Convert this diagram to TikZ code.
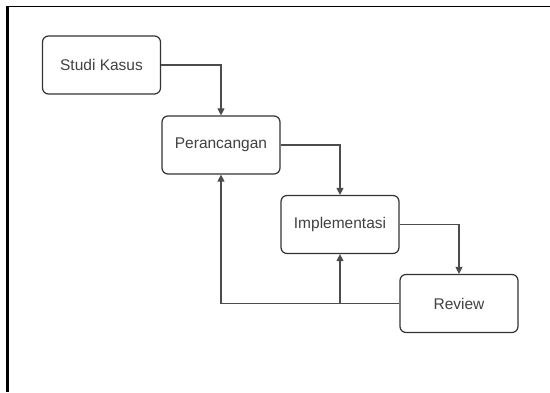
\documentclass[tikz,border=0pt]{standalone}
\usepackage{fontspec}
\setmainfont{Liberation Sans}
\usetikzlibrary{arrows.meta}

\tikzset{
  tahap/.style={draw=black!80,line width=1.2pt,rounded corners=6pt,
    minimum width=118pt,minimum height=58pt,text=black!75,
    font=\fontsize{15.5}{18}\selectfont},
  alur/.style={draw=black!70,line width=1.1pt},
  >={Triangle[length=7pt,width=7pt]}
}

\begin{document}
\begin{tikzpicture}[x=1pt,y=-1pt]
\useasboundingbox (0,0) rectangle (550,392);

% bingkai
\draw[line width=1.6pt] (6,6.5) -- (550,6.5);
\draw[line width=2.6pt] (7.3,5.7) -- (7.3,392);

\node [tahap] (studi) at (101.5,65) {Studi Kasus};
\node [tahap] (rancang) at (221,145) {Perancangan};
\node [tahap] (impl) at (340,224.5) {Implementasi};
\node [tahap] (review) at (459,303.5) {Review};

\draw[alur,->] (studi.east) -| (rancang.north);
\draw[alur,->] (rancang.east) -| (impl.north);
\draw[alur,->] (impl.east) -| (review.north);

% umpan balik
\draw[alur,->] (review.west) -| (rancang.south);
\coordinate (cabang) at (impl.south |- review.west);
\draw[alur,->] (cabang) -- (impl.south);

\end{tikzpicture}
\end{document}
